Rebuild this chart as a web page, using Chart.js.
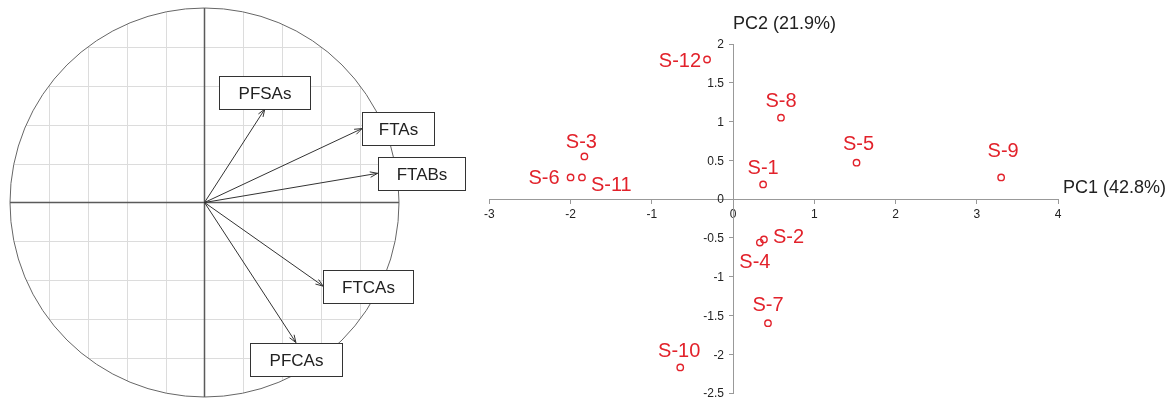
<!DOCTYPE html>
<html>
<head>
<meta charset="utf-8">
<script src="https://cdn.jsdelivr.net/npm/chart.js@4"></script>
<style>
  html, body { margin: 0; padding: 0; background: #fff; }
  #wrap { position: relative; width: 1176px; height: 401px; }
  #circle { position: absolute; left: 0; top: 0; }
  #scores { position: absolute; left: 480px; top: 0; }
</style>
</head>
<body>
<div id="wrap">
  <canvas id="circle" width="480" height="401"></canvas>
  <canvas id="scores" width="696" height="401"></canvas>
</div>
<script>
// variable loadings (correlation circle)
var variables = ['PFSAs', 'FTAs', 'FTABs', 'FTCAs', 'PFCAs'];
var loadingsPC1 = [0.31, 0.81, 0.89, 0.61, 0.47];
var loadingsPC2 = [0.48, 0.38, 0.15, -0.43, -0.72];

// sample scores
var samples = ['S-1', 'S-2', 'S-3', 'S-4', 'S-5', 'S-6', 'S-7', 'S-8', 'S-9', 'S-10', 'S-11', 'S-12'];
var scoresPC1 = [0.37, 0.38, -1.83, 0.33, 1.52, -2.00, 0.43, 0.59, 3.30, -0.65, -1.86, -0.32];
var scoresPC2 = [0.19, -0.52, 0.55, -0.56, 0.47, 0.28, -1.60, 1.05, 0.28, -2.17, 0.28, 1.80];

var axisTitles = ['PC1 (42.8%)', 'PC2 (21.9%)'];

Chart.defaults.font.family = '"Liberation Sans", Arial, sans-serif';
Chart.defaults.animation = false;

var red = '#e2222b';

// ---------- left: correlation circle ----------
var boxWidth = {PFSAs: 91, FTAs: 72, FTABs: 87, FTCAs: 90, PFCAs: 92};

var arrowSets = variables.map(function (v, i) {
  return {
    label: v,
    data: [{x: 0, y: 0}, {x: loadingsPC1[i], y: loadingsPC2[i]}],
    showLine: true,
    borderColor: '#333',
    borderWidth: 1,
    pointRadius: 0
  };
});

var circlePlugin = {
  id: 'circle',
  beforeDatasetsDraw: function (chart) {
    var ctx = chart.ctx, xs = chart.scales.x, ys = chart.scales.y;
    var cx = xs.getPixelForValue(0), cy = ys.getPixelForValue(0);
    var r = xs.getPixelForValue(1) - cx;
    // grid, clipped to the circle
    ctx.save();
    ctx.beginPath();
    ctx.arc(cx, cy, r, 0, Math.PI * 2);
    ctx.clip();
    ctx.strokeStyle = '#dcdcdc';
    ctx.lineWidth = 1;
    xs.ticks.forEach(function (t) {
      if (Math.abs(t.value) < 1e-9 || Math.abs(t.value) >= 1) return;
      var px = Math.round(xs.getPixelForValue(t.value)) + 0.5;
      ctx.beginPath(); ctx.moveTo(px, cy - r); ctx.lineTo(px, cy + r); ctx.stroke();
    });
    ys.ticks.forEach(function (t) {
      if (Math.abs(t.value) < 1e-9 || Math.abs(t.value) >= 1) return;
      var py = Math.round(ys.getPixelForValue(t.value)) + 0.5;
      ctx.beginPath(); ctx.moveTo(cx - r, py); ctx.lineTo(cx + r, py); ctx.stroke();
    });
    ctx.restore();
    ctx.save();
    ctx.strokeStyle = '#666';
    ctx.lineWidth = 1;
    ctx.beginPath();
    ctx.arc(cx, cy, r, 0, Math.PI * 2);
    ctx.stroke();
    ctx.lineWidth = 1.5;
    ctx.strokeStyle = '#5a5a5a';
    ctx.beginPath();
    ctx.moveTo(cx - r, cy); ctx.lineTo(cx + r, cy);
    ctx.moveTo(cx, cy - r); ctx.lineTo(cx, cy + r);
    ctx.stroke();
    ctx.restore();
  },
  afterDatasetsDraw: function (chart) {
    var ctx = chart.ctx;
    ctx.save();
    ctx.font = '17px "Liberation Sans", Arial, sans-serif';
    ctx.textBaseline = 'middle';
    ctx.textAlign = 'center';
    chart.data.datasets.forEach(function (ds, i) {
      var pts = chart.getDatasetMeta(i).data;
      var x0 = pts[0].x, y0 = pts[0].y, x1 = pts[1].x, y1 = pts[1].y;
      var ang = Math.atan2(y1 - y0, x1 - x0);
      // arrow head
      ctx.strokeStyle = '#333';
      ctx.lineWidth = 1;
      ctx.beginPath();
      ctx.moveTo(x1 - 8 * Math.cos(ang - 0.35), y1 - 8 * Math.sin(ang - 0.35));
      ctx.lineTo(x1, y1);
      ctx.lineTo(x1 - 8 * Math.cos(ang + 0.35), y1 - 8 * Math.sin(ang + 0.35));
      ctx.stroke();
      // label box
      var w = boxWidth[ds.label], h = 33;
      var dx = x1 - x0, dy = y1 - y0, bx, by;
      if (Math.abs(dx) > Math.abs(dy)) {
        bx = x1; by = y1 - h / 2;
      } else if (dy < 0) {
        bx = x1 - w / 2; by = y1 - h;
      } else {
        bx = x1 - w / 2; by = y1;
      }
      bx = Math.round(bx) + 0.5; by = Math.round(by) + 0.5;
      ctx.fillStyle = '#fff';
      ctx.fillRect(bx, by, w, h);
      ctx.strokeStyle = '#333';
      ctx.strokeRect(bx, by, w, h);
      ctx.fillStyle = '#222';
      ctx.fillText(ds.label, bx + w / 2, by + h / 2 + 1);
    });
    ctx.restore();
  }
};

new Chart(document.getElementById('circle'), {
  type: 'scatter',
  data: {datasets: arrowSets},
  options: {
    responsive: false,
    layout: {padding: {left: 10, right: 81, top: 8, bottom: 4}},
    plugins: {legend: {display: false}, tooltip: {enabled: false}},
    scales: {
      x: {display: false, min: -1, max: 1, ticks: {stepSize: 0.2}},
      y: {display: false, min: -1, max: 1, ticks: {stepSize: 0.2}}
    }
  },
  plugins: [circlePlugin]
});

// ---------- right: sample scores ----------
var labelPlace = {
  'S-1': [0, -16, 'center'], 'S-2': [9, -2, 'left'], 'S-3': [-3, -14, 'center'],
  'S-4': [-5, 20, 'center'], 'S-5': [2, -18, 'center'], 'S-6': [-11, 1, 'right'],
  'S-7': [0, -18, 'center'], 'S-8': [0, -16, 'center'], 'S-9': [2, -26, 'center'],
  'S-10': [-1, -16, 'center'], 'S-11': [9, 8, 'left'], 'S-12': [-6, 2, 'right']
};

var scorePlugin = {
  id: 'scoreLabels',
  afterDatasetsDraw: function (chart) {
    var ctx = chart.ctx, area = chart.chartArea;
    var xs = chart.scales.x, ys = chart.scales.y;
    var pts = chart.getDatasetMeta(0).data;
    ctx.save();
    // y tick labels, left of the centred axis
    ctx.font = '12px "Liberation Sans", Arial, sans-serif';
    ctx.fillStyle = '#222';
    ctx.textAlign = 'right';
    ctx.textBaseline = 'middle';
    var ax = xs.getPixelForValue(0);
    ys.ticks.forEach(function (t) {
      ctx.fillText(String(t.value), ax - 9, ys.getPixelForValue(t.value) + 1);
    });
    // sample names
    ctx.font = '20px "Liberation Sans", Arial, sans-serif';
    ctx.fillStyle = red;
    samples.forEach(function (s, i) {
      var p = labelPlace[s];
      ctx.textAlign = p[2];
      ctx.fillText(s, pts[i].x + p[0], pts[i].y + p[1]);
    });
    // axis titles
    ctx.font = '18px "Liberation Sans", Arial, sans-serif';
    ctx.fillStyle = '#222';
    ctx.textAlign = 'left';
    ctx.fillText(axisTitles[0], area.right + 5, ys.getPixelForValue(0) - 11);
    ctx.fillText(axisTitles[1], xs.getPixelForValue(0), area.top - 20);
    ctx.restore();
  }
};

new Chart(document.getElementById('scores'), {
  type: 'scatter',
  data: {
    datasets: [{
      label: 'scores',
      data: samples.map(function (s, i) { return {x: scoresPC1[i], y: scoresPC2[i]}; }),
      pointRadius: 3.2,
      pointBorderWidth: 1.4,
      borderColor: red,
      backgroundColor: 'rgba(255,255,255,0)'
    }]
  },
  options: {
    responsive: false,
    layout: {padding: {left: 9, right: 118, top: 44, bottom: 8}},
    plugins: {legend: {display: false}, tooltip: {enabled: false}},
    scales: {
      x: {
        type: 'linear', min: -3, max: 4, position: {y: 0},
        ticks: {stepSize: 1, color: '#222', font: {size: 12}, padding: 4, maxRotation: 0},
        grid: {drawOnChartArea: false, tickLength: 4, color: '#999'},
        border: {color: '#999'}
      },
      y: {
        type: 'linear', min: -2.5, max: 2, position: {x: 0},
        ticks: {stepSize: 0.5, display: false},
        grid: {drawOnChartArea: false, tickLength: 4, color: '#999'},
        border: {color: '#999'}
      }
    }
  },
  plugins: [scorePlugin]
});
</script>
</body>
</html>
